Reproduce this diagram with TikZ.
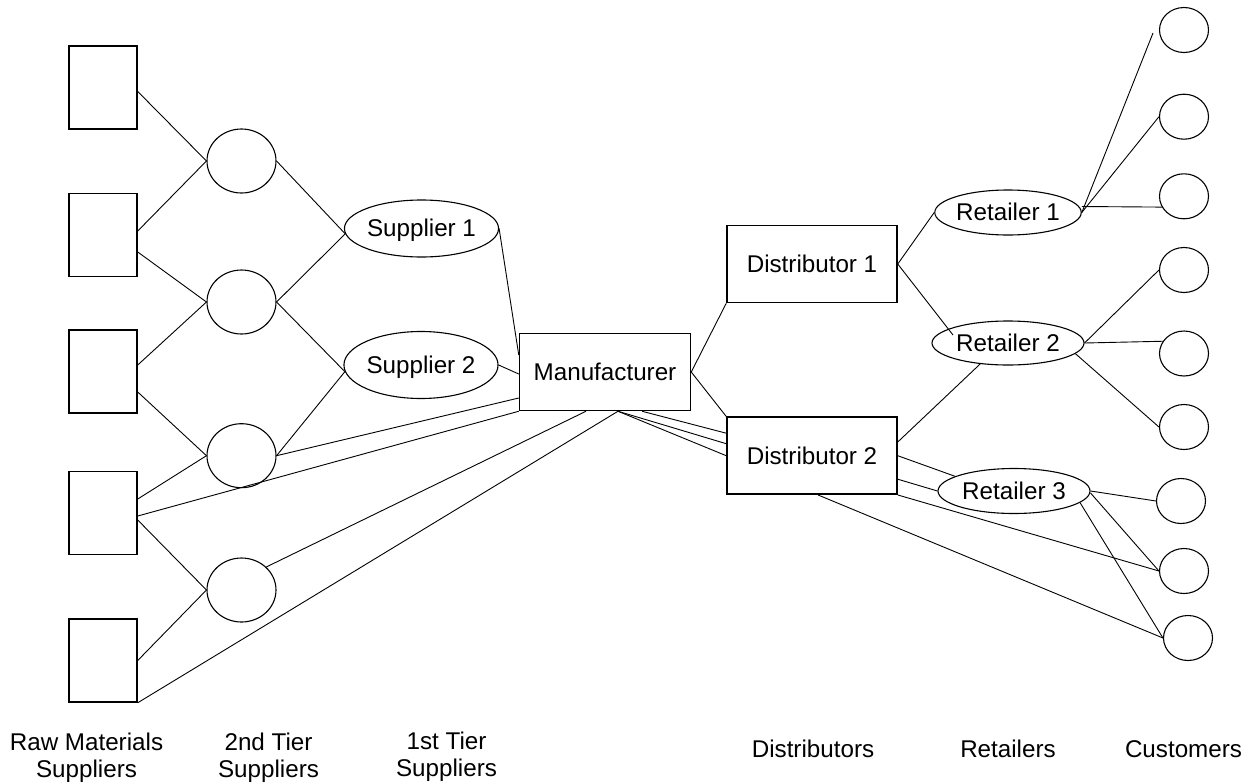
\documentclass[tikz,border=0pt]{standalone}
\usepackage{fontspec}
\setmainfont{Liberation Sans}
\usetikzlibrary{shapes.geometric}
\begin{document}
\begin{tikzpicture}[x=1pt,y=-1pt,
  txt/.style={font=\fontsize{24.2}{27}\selectfont, text height=16.8pt, text depth=0pt},
  lab/.style={font=\fontsize{24.2}{26.7}\selectfont, align=center, anchor=base, inner sep=0pt},
  conn/.style={draw=black, line width=0.9pt},
  rawbox/.style={draw=black, line width=1.5pt, minimum width=68pt, minimum height=83pt, inner sep=0pt},
  tierc/.style={ellipse, draw=black, line width=1.1pt, minimum width=69pt, minimum height=64pt, inner sep=0pt},
  supp/.style={ellipse, draw=black, line width=1.1pt, minimum width=153pt, inner sep=0pt, txt},
  bigbox/.style={draw=black, line width=1.5pt, minimum width=170pt, minimum height=77pt, inner sep=0pt, txt},
  ret/.style={ellipse, draw=black, line width=1.1pt, minimum height=45pt, inner sep=0pt, txt},
  cust/.style={ellipse, draw=black, line width=1.1pt, minimum width=49pt, minimum height=45pt, inner sep=0pt}
]
\fill[white] (0,0) rectangle (1256,782);
\useasboundingbox (0,0) rectangle (1256,782);

% raw materials suppliers
\node[rawbox] (r1) at (103,87.5) {};
\node[rawbox] (r2) at (103,235) {};
\node[rawbox] (r3) at (103,371.5) {};
\node[rawbox] (r4) at (103,513) {};
\node[rawbox] (r5) at (103,660.5) {};

% 2nd tier
\node[tierc] (t1) at (241.5,161) {};
\node[tierc] (t2) at (241.5,302) {};
\node[tierc] (t3) at (241.5,455.7) {};
\node[tierc] (t4) at (241.5,590) {};

% 1st tier
\node[supp, minimum height=57pt] (s1) at (421.5,228.5) {Supplier 1};
\node[supp, minimum height=67pt] (s2) at (421,365) {Supplier 2};

% manufacturer, distributors
\node[bigbox, minimum width=171pt] (m) at (605,372) {Manufacturer};
\node[bigbox] (d1) at (812,264) {Distributor 1};
\node[bigbox] (d2) at (812,455.7) {Distributor 2};

% retailers
\node[ret, minimum width=145pt] (q1) at (1008,212.5) {Retailer 1};
\node[ret, minimum width=152pt, minimum height=44pt] (q2) at (1008,343) {Retailer 2};
\node[ret, minimum width=152pt] (q3) at (1014,491) {Retailer 3};

% customers
\node[cust] (c1) at (1184,30) {};
\node[cust] (c2) at (1184,116.7) {};
\node[cust] (c3) at (1184,196.3) {};
\node[cust] (c4) at (1184,270) {};
\node[cust] (c5) at (1184,353.5) {};
\node[cust] (c6) at (1184,427) {};
\node[cust] (c7) at (1181,501) {};
\node[cust] (c8) at (1184,571) {};
\node[cust] (c9) at (1188,638) {};
\coordinate (c1end) at (1153,33);

% connectors: raw -> 2nd tier
\draw[conn] ([yshift=-4pt]r1.east) -- (t1.west);
\draw[conn] ([yshift=4pt]r2.east) -- (t1.west);
\draw[conn] ([yshift=-17pt]r2.east) -- (t2.west);
\draw[conn] ([yshift=6.5pt]r3.east) -- (t2.west);
\draw[conn] ([yshift=-20.5pt]r3.east) -- (t3.west);
\draw[conn] ([yshift=14pt]r4.east) -- (t3.west);
\draw[conn] ([yshift=-7pt]r4.east) -- (t4.west);
\draw[conn] (r5.east) -- (t4.west);
% raw -> manufacturer
\draw[conn] ([yshift=-3pt]r4.east) -- (m.south west);
\draw[conn] (r5.south east) -- ([xshift=13pt]m.south);
% 2nd tier -> 1st tier / manufacturer
\draw[conn] (t1.east) -- (s1.184);
\draw[conn] (t2.east) -- (s1.184);
\draw[conn] (t2.east) -- (s2.185);
\draw[conn] (t3.east) -- (s2.185);
\draw[conn] (t3.east) -- ([yshift=-26pt]m.west);
\draw[conn] (t4.north east) -- ([xshift=-19pt]m.south);
% 1st tier -> manufacturer
\draw[conn] (s1.east) -- ([yshift=17pt]m.west);
\draw[conn] (s2.east) -- ([yshift=-2pt]m.west);
% manufacturer -> distributors
\draw[conn] (m.east) -- (d1.south west);
\draw[conn] (m.east) -- (d2.north west);
\draw[conn] ([xshift=37pt]m.south) -- ([yshift=22.5pt]d2.west);
\draw[conn] ([xshift=13pt]m.south) -- ([yshift=12pt]d2.west);
\draw[conn] ([xshift=13pt]m.south) -- (d2.west);
% distributors -> retailers / customers
\draw[conn] (d1.east) -- (q1.west);
\draw[conn] (d1.east) -- ([xshift=-55pt,yshift=8pt]q2.center);
\draw[conn] ([yshift=13.7pt]d2.east) -- (q2.217);
\draw[conn] (d2.east) -- (q3.166);
\draw[conn] ([yshift=-23.5pt]d2.east) -- (q3.west);
\draw[conn] (d2.south east) -- (c8.west);
\draw[conn] ([xshift=6pt]d2.south) -- (c9.west);
% retailers -> customers
\draw[conn] (q1.east) -- (c1end);
\draw[conn] (q1.east) -- (c2.west);
\draw[conn] ([yshift=6pt]q1.east) -- (c3.206);
\draw[conn] (q2.east) -- (c4.west);
\draw[conn] (q2.east) -- (c5.150);
\draw[conn] (q2.351) -- (c6.west);
\draw[conn] (q3.east) -- (c7.west);
\draw[conn] ([yshift=-2pt]q3.east) -- (c8.west);
\draw[conn] (q3.350) -- (c9.west);

% column labels
\node[lab] (l1) at (86.5,777) {Raw Materials\\Suppliers};
\node[lab] (l2) at (268.5,777) {2nd Tier\\Suppliers};
\node[lab] (l3) at (446.5,776) {1st Tier\\Suppliers};
\node[lab] (l4) at (813,757) {Distributors};
\node[lab] (l5) at (1008,757) {Retailers};
\node[lab] (l6) at (1183.5,757) {Customers};
\end{tikzpicture}
\end{document}
